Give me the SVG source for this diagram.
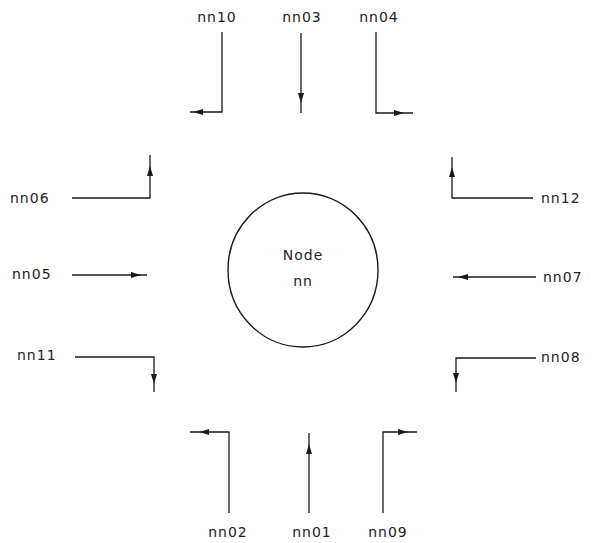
<svg xmlns="http://www.w3.org/2000/svg" xmlns:xlink="http://www.w3.org/1999/xlink" width="593" height="543" viewBox="0 0 593 543">
<style>
.bg{fill:#fff}
.ln{fill:none;stroke:#1a1a1a;stroke-width:1.3}
.lb{font-family:"DejaVu Sans",sans-serif;font-size:14px;fill:#222;letter-spacing:1px}
.nd{fill:none;stroke:#1a1a1a;stroke-width:1.4}
</style>
<defs>
<polygon id="ah" points="0,0 -10,-3 -10,3" fill="#1a1a1a"/>
</defs>
<rect class="bg" x="0" y="0" width="593" height="543"/>
<g id="node-nn">
<ellipse class="nd" cx="303" cy="270" rx="75" ry="77"/>
<text class="lb" x="303" y="260" text-anchor="middle">Node</text>
<text class="lb" x="303" y="286" text-anchor="middle">nn</text>
</g>
<g id="nn10"><text class="lb" x="217" y="22" text-anchor="middle">nn10</text></g>
<g id="nn03"><text class="lb" x="302" y="22" text-anchor="middle">nn03</text></g>
<g id="nn04"><text class="lb" x="379" y="22" text-anchor="middle">nn04</text></g>
<g id="nn06"><text class="lb" x="10" y="203">nn06</text></g>
<g id="nn05"><text class="lb" x="12" y="279">nn05</text></g>
<g id="nn11"><text class="lb" x="17" y="360">nn11</text></g>
<g id="nn12"><text class="lb" x="541" y="203">nn12</text></g>
<g id="nn07"><text class="lb" x="543" y="282">nn07</text></g>
<g id="nn08"><text class="lb" x="541" y="362">nn08</text></g>
<g id="nn02"><text class="lb" x="228" y="537" text-anchor="middle">nn02</text></g>
<g id="nn01"><text class="lb" x="312" y="537" text-anchor="middle">nn01</text></g>
<g id="nn09"><text class="lb" x="388" y="537" text-anchor="middle">nn09</text></g>
<g id="connectors">
<path class="ln" d="M222,32 V112 H190"/>
<use xlink:href="#ah" transform="translate(193,112) rotate(180)"/>
<path class="ln" d="M301,33 V113"/>
<use xlink:href="#ah" transform="translate(301,103) rotate(90)"/>
<path class="ln" d="M376,32 V113 H413"/>
<use xlink:href="#ah" transform="translate(404,113)"/>
<path class="ln" d="M72,198 H150 V155"/>
<use xlink:href="#ah" transform="translate(150,166) rotate(-90)"/>
<path class="ln" d="M72,275 H147"/>
<use xlink:href="#ah" transform="translate(141,275)"/>
<path class="ln" d="M75,357 H154 V392"/>
<use xlink:href="#ah" transform="translate(154,384) rotate(90)"/>
<path class="ln" d="M533,198 H452 V157"/>
<use xlink:href="#ah" transform="translate(452,167) rotate(-90)"/>
<path class="ln" d="M536,277 H453"/>
<use xlink:href="#ah" transform="translate(458,277) rotate(180)"/>
<path class="ln" d="M536,358 H456 V392"/>
<use xlink:href="#ah" transform="translate(456,383) rotate(90)"/>
<path class="ln" d="M229,513 V432 H190"/>
<use xlink:href="#ah" transform="translate(199,432) rotate(180)"/>
<path class="ln" d="M309,513 V433"/>
<use xlink:href="#ah" transform="translate(309,444) rotate(-90)"/>
<path class="ln" d="M383,513 V432 H417"/>
<use xlink:href="#ah" transform="translate(408,432)"/>
</g>
</svg>
